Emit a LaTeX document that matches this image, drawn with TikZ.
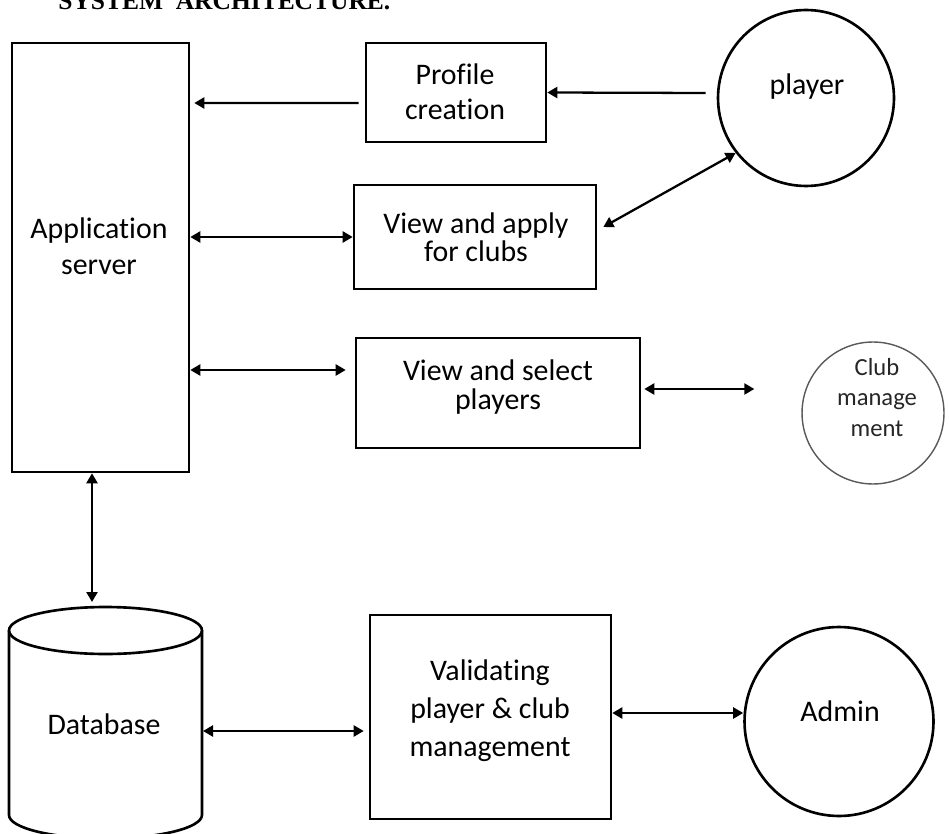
\documentclass[tikz,border=0pt]{standalone}
\usepackage{fontspec}
\setmainfont[Ligatures=NoCommon]{Carlito}
\newfontfamily\titlefont{Liberation Serif}
\usetikzlibrary{arrows.meta,calc}
\newcommand{\tightlns}{\lineskiplimit=-20pt\relax}
\tikzset{
  boxnode/.style={draw=black, line width=1.5pt, rectangle, inner sep=0pt},
  circnode/.style={draw=black, line width=1.5pt, circle, inner sep=0pt},
  txt/.style={align=center, inner sep=0pt, text=black},
  arr/.style={line width=1.3pt, -{Triangle[length=0.2cm,width=0.22cm]}},
  arrs/.style={line width=1.3pt, {Triangle[length=0.2cm,width=0.22cm]}-{Triangle[length=0.2cm,width=0.22cm]}},
}
\begin{document}
\begin{tikzpicture}[x=0.02cm, y=-0.02cm]
\useasboundingbox (0,0) rectangle (949,834);

% title (cut off at top)
\node[anchor=base west, inner sep=0pt, font={\titlefont\bfseries\fontsize{14.5}{17}\selectfont}] (title) at (58,10) {SYSTEM\hspace{0.5em}ARCHITECTURE.};

% boxes
\node[boxnode, minimum width=3.54cm, minimum height=8.58cm] (app) at (100.5,257.5) {};
\node[boxnode, minimum width=3.6cm, minimum height=1.98cm] (profile) at (456,92.5) {};
\node[boxnode, minimum width=4.84cm, minimum height=2.08cm] (viewapply) at (475,237) {};
\node[boxnode, minimum width=5.68cm, minimum height=2.2cm] (viewsel) at (498,393) {};
\node[boxnode, minimum width=4.82cm, minimum height=4.08cm] (valid) at (490.5,717) {};

% circles
\node[circnode, minimum size=3.52cm] (player) at (806,98) {};
\node[circnode, draw=black!65, line width=0.8pt, minimum size=2.84cm] (club) at (873,413) {};
\node[circnode, minimum size=3.78cm] (admin) at (839,721.5) {};

% database cylinder
\draw[line width=1.5pt] (105.5,630.5) ellipse [x radius=1.93cm, y radius=0.47cm];
\draw[line width=1.5pt] (9,630.5) -- (9,815) arc[start angle=180, end angle=360, x radius=1.93cm, y radius=0.47cm] -- (202,630.5);
\coordinate (dbtop) at (92,602);
\coordinate (dbright) at (203,731);

% texts
\node[txt, font={\fontsize{17}{20.2}\selectfont\tightlns}] (appT) at (99,246) {Application\\server};
\node[txt, font={\fontsize{17}{20.2}\selectfont\tightlns}] (profileT) at (455,91.5) {Profile\\creation};
\node[txt, font={\fontsize{17}{16}\selectfont\tightlns}] (viewapplyT) at (476,237.5) {View and apply\\for clubs};
\node[txt, font={\fontsize{17}{16}\selectfont\tightlns}] (viewselT) at (498,387) {View and select\\players};
\node[txt, font={\fontsize{17}{21.6}\selectfont\tightlns}] (validT) at (490,711) {Validating\\player \& club\\management};
\node[txt, text=black!85, font={\fontsize{14}{17.3}\selectfont\tightlns}] (clubT) at (877,397.5) {Club\\manage\\ment};
\node[txt, anchor=base, font={\fontsize{17}{20}\selectfont}] (playerT) at (807,95) {player};
\node[txt, anchor=base, font={\fontsize{17}{20}\selectfont}] (adminT) at (840,721) {Admin};
\node[txt, anchor=base, font={\fontsize{17}{20}\selectfont}] (dbT) at (104,734) {Database};

% connectors
\draw[arr] ([shift={(-6,10.5)}]profile.west) -- ([shift={(4,-154.5)}]app.east);
\draw[arr] ([shift={(-11,-5)}]player.west) -- (profile.east);
\draw[arrs] (viewapply.west -| app.east) -- (viewapply.west);
\draw[arrs] ([shift={(6,-10)}]viewapply.east) -- (player.218);
\coordinate (s1) at ([shift={(-9,-23)}]viewsel.west);
\draw[arrs] (app.east |- s1) -- (s1);
\coordinate (c2) at ([shift={(-47,-24)}]club.west);
\draw[arrs] ([shift={(3,-4)}]viewsel.east) -- (c2);
\draw[arrs] ([shift={(-8.5,0)}]app.south) -- (dbtop);
\draw[arrs] (dbright) -- ([shift={(-5,14)}]valid.west);
\draw[arrs] ([shift={(0,-4)}]valid.east) -- ([shift={(0,-8.5)}]admin.west);
\end{tikzpicture}
\end{document}
